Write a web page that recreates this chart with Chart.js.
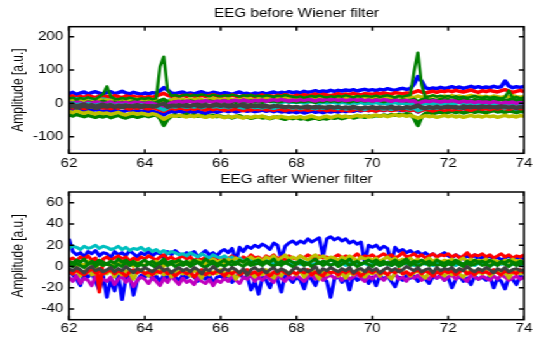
<!DOCTYPE html>
<html>
<head>
<meta charset="utf-8">
<script src="https://cdn.jsdelivr.net/npm/chart.js@4.4.0/dist/chart.umd.min.js"></script>
<style>
html,body{margin:0;padding:0;background:#fff;}
#wrap{position:absolute;left:0;top:0;width:440px;height:338px;transform:scaleX(1.2682);transform-origin:0 0;}
#c1{position:absolute;left:0;top:0;}
#c2{position:absolute;left:0;top:170px;}
</style>
</head>
<body>
<div id="wrap">
<canvas id="c1" width="440" height="170"></canvas>
<canvas id="c2" width="440" height="168"></canvas>
</div>
<script>
// ---------- shared x axis (seconds) ----------
const time = [
62,62.1,62.2,62.3,62.4,62.5,62.6,62.7,62.8,62.9,
63,63.1,63.2,63.3,63.4,63.5,63.6,63.7,63.8,63.9,
64,64.1,64.2,64.3,64.4,64.5,64.6,64.7,64.8,64.9,
65,65.1,65.2,65.3,65.4,65.5,65.6,65.7,65.8,65.9,
66,66.1,66.2,66.3,66.4,66.5,66.6,66.7,66.8,66.9,
67,67.1,67.2,67.3,67.4,67.5,67.6,67.7,67.8,67.9,
68,68.1,68.2,68.3,68.4,68.5,68.6,68.7,68.8,68.9,
69,69.1,69.2,69.3,69.4,69.5,69.6,69.7,69.8,69.9,
70,70.1,70.2,70.3,70.4,70.5,70.6,70.7,70.8,70.9,
71,71.1,71.2,71.3,71.4,71.5,71.6,71.7,71.8,71.9,
72,72.1,72.2,72.3,72.4,72.5,72.6,72.7,72.8,72.9,
73,73.1,73.2,73.3,73.4,73.5,73.6,73.7,73.8,73.9,
74];
const xTicks = [62,64,66,68,70,72,74];
const yTicksBefore = [-100,0,100,200];
const yTicksAfter = [-40,-20,0,20,40,60];
const titleBefore = 'EEG before Wiener filter';
const titleAfter = 'EEG after Wiener filter';
const yLabel = 'Amplitude [a.u.]';

// ---------- EEG before Wiener filter ----------
const beforeBlueLow = [
-19,-22,-17,-21,-24,-20,-23,-18,-22,-25,
-21,-24,-20,-23,-26,-22,-19,-24,-21,-25,
-22,-26,-23,-27,-30,-35,-28,-24,-27,-23,
-26,-29,-25,-28,-24,-27,-30,-26,-23,-27,
-24,-21,-25,-22,-26,-23,-20,-24,-22,-25,
-23,-20,-24,-21,-25,-22,-26,-24,-27,-25,
-28,-25,-29,-26,-23,-27,-25,-28,-24,-26,
-23,-26,-22,-25,-21,-24,-20,-23,-19,-22,
-20,-23,-19,-22,-18,-21,-17,-20,-22,-19,
-21,-18,-26,-20,-17,-21,-18,-16,-20,-17,
-19,-16,-20,-17,-15,-19,-16,-18,-14,-17,
-15,-18,-14,-17,-13,-16,-18,-14,-17,-15,
-16];
const beforeGreenLow = [
-34,-38,-33,-37,-40,-36,-39,-42,-38,-41,
-37,-43,-39,-36,-41,-44,-40,-38,-42,-39,
-36,-40,-37,-34,-45,-66,-48,-38,-35,-39,
-36,-33,-38,-35,-39,-37,-41,-38,-36,-40,
-38,-42,-39,-44,-40,-37,-43,-41,-45,-42,
-40,-44,-42,-46,-43,-41,-45,-48,-44,-46,
-43,-47,-45,-49,-46,-44,-48,-45,-47,-43,
-45,-42,-46,-43,-40,-44,-41,-39,-42,-38,
-40,-37,-39,-35,-38,-34,-36,-33,-35,-31,
-33,-45,-66,-40,-30,-27,-31,-28,-26,-30,
-27,-24,-28,-25,-29,-26,-23,-27,-24,-26,
-28,-25,-22,-26,-24,-27,-23,-25,-28,-24,
-26];
const beforeYellowLow = [
-24,-28,-22,-27,-30,-26,-29,-32,-28,-31,
-29,-33,-30,-27,-32,-35,-31,-29,-33,-30,
-32,-35,-31,-34,-40,-48,-42,-37,-39,-36,
-38,-41,-37,-40,-36,-39,-42,-38,-41,-37,
-40,-43,-39,-42,-38,-41,-44,-40,-43,-39,
-41,-38,-42,-45,-40,-43,-39,-42,-44,-41,
-43,-40,-44,-41,-38,-42,-45,-41,-39,-43,
-40,-37,-41,-38,-42,-39,-36,-40,-37,-41,
-38,-35,-39,-36,-40,-37,-34,-38,-35,-39,
-36,-40,-44,-41,-37,-40,-38,-42,-39,-36,
-40,-37,-41,-38,-42,-39,-36,-40,-38,-41,
-37,-40,-38,-42,-39,-36,-40,-38,-41,-37,
-39];
const beforeRedLow = [
-11,-14,-9,-13,-16,-12,-10,-15,-12,-14,
-13,-16,-12,-15,-11,-14,-17,-13,-15,-12,
-14,-17,-13,-16,-20,-24,-18,-15,-17,-14,
-16,-19,-15,-18,-14,-17,-20,-16,-19,-15,
-18,-21,-17,-20,-16,-19,-22,-18,-20,-17,
-19,-16,-20,-18,-21,-17,-19,-22,-18,-20,
-17,-20,-18,-21,-19,-16,-20,-18,-22,-19,
-21,-18,-22,-19,-23,-20,-17,-21,-19,-22,
-20,-23,-19,-21,-18,-22,-20,-17,-21,-19,
-22,-19,-25,-21,-18,-20,-23,-19,-17,-21,
-18,-20,-17,-19,-16,-18,-21,-17,-15,-18,
-16,-19,-15,-17,-14,-16,-18,-15,-13,-16,
-15];
const beforeBlueHigh = [
29,33,27,31,34,28,32,35,30,28,
33,35,29,32,36,31,28,33,30,27,
31,28,32,30,38,47,40,31,29,32,
34,29,31,28,32,35,30,29,33,31,
28,32,30,27,31,34,29,30,27,31,
29,32,28,31,34,30,33,31,35,32,
34,31,36,33,35,38,34,37,35,39,
36,39,37,40,38,41,37,40,42,39,
41,38,42,40,44,41,39,43,45,42,
44,58,80,66,47,43,46,44,48,45,
47,50,46,49,45,48,51,47,50,46,
49,47,51,48,50,67,52,47,50,48,
51];
const beforeRedHigh = [
19,22,17,21,18,23,20,17,22,19,
21,18,23,20,17,22,19,21,18,20,
17,20,18,22,26,30,24,21,23,20,
24,21,25,22,20,24,21,23,26,22,
20,23,21,25,22,19,23,21,24,20,
22,25,21,23,20,24,22,26,23,21,
24,22,26,23,25,28,24,27,25,23,
26,29,25,28,26,30,27,25,29,28,
27,30,28,31,29,27,32,30,28,31,
30,33,38,34,31,34,36,33,37,35,
38,35,39,36,34,37,40,36,33,38,
35,39,36,34,38,41,37,33,36,39,
35];
const beforeCyanHigh = [
12,9,14,10,13,11,8,12,10,13,
11,8,12,9,11,7,10,12,8,11,
9,12,8,10,6,2,8,11,9,12,
10,7,11,8,10,6,9,7,10,8,
7,9,6,8,5,7,4,6,8,5,
6,3,5,7,4,6,2,5,3,4,
2,4,1,3,5,2,0,3,1,4,
2,0,3,1,-1,2,0,3,-1,1,
0,2,-1,1,-2,0,2,-1,1,-2,
0,-2,-8,-3,0,-1,1,-2,0,-1,
1,-1,0,2,-2,0,-1,1,-2,0,
-1,1,-2,0,-3,-1,0,-2,1,-1,
-2];
const beforeYellowHigh = [
6,10,4,8,11,7,5,9,12,8,
10,7,11,8,12,9,6,10,13,9,
11,8,12,9,6,0,5,10,13,11,
12,9,13,10,14,11,8,12,15,11,
13,10,14,12,9,13,11,15,12,10,
14,11,15,13,10,14,12,16,13,15,
12,16,14,17,13,15,18,14,16,13,
17,15,18,14,16,19,15,17,20,16,
18,15,19,17,20,16,18,21,17,19,
20,17,22,18,21,19,23,20,18,22,
19,23,20,22,18,21,24,20,22,19,
21,18,22,20,17,21,19,23,20,18,
21];
const beforeGreenMid = [
3,0,5,1,-2,4,2,-1,3,6,
2,-1,4,0,3,-2,1,4,-1,2,
0,3,-1,2,8,12,4,1,5,3,
6,3,7,4,2,6,3,7,5,2,
5,8,4,7,3,6,9,5,7,4,
6,3,7,5,8,4,6,9,5,7,
4,7,5,8,6,3,7,5,9,6,
8,5,9,6,4,8,6,10,7,9,
7,10,8,5,9,7,11,8,10,7,
9,12,4,10,13,9,11,8,12,10,
11,8,12,9,13,10,7,11,9,12,
10,7,11,9,12,8,10,13,9,11,
8];
const beforeMagenta = [
2,-1,4,1,-2,3,0,5,2,-1,
1,4,-2,2,0,3,-1,2,5,1,
-1,2,0,-3,-8,-12,-5,2,4,6,
3,7,5,2,6,4,8,5,3,7,
5,8,4,7,9,6,10,7,5,9,
7,10,6,9,11,8,12,9,7,10,
8,11,9,12,10,7,11,9,13,10,
12,9,11,8,10,13,9,11,8,10,
7,10,8,11,9,6,10,8,7,9,
6,8,-2,4,7,5,8,6,4,7,
5,8,6,3,7,4,6,2,5,3,
4,1,5,2,0,3,1,4,0,2,
1];
const beforeCyanLow = [
-3,0,-5,-2,-6,-1,-4,-7,-3,-5,
-6,-3,-8,-5,-7,-4,-9,-6,-8,-5,
-7,-9,-6,-10,-15,-20,-14,-9,-11,-8,
-10,-12,-9,-11,-8,-13,-10,-7,-11,-9,
-12,-9,-13,-10,-8,-12,-14,-11,-9,-13,
-11,-14,-10,-13,-15,-12,-9,-13,-11,-14,
-12,-15,-13,-10,-14,-16,-12,-15,-13,-11,
-14,-16,-13,-17,-15,-12,-16,-14,-18,-15,
-13,-16,-14,-17,-15,-18,-14,-16,-13,-15,
-17,-14,-22,-18,-13,-15,-12,-14,-11,-13,
-10,-13,-11,-14,-12,-9,-13,-11,-8,-12,
-10,-13,-11,-9,-12,-14,-10,-13,-11,-9,
-12];
const beforeGrayLow = [
-12,-9,-14,-11,-8,-13,-10,-15,-12,-9,
-11,-8,-12,-9,-13,-10,-7,-11,-9,-12,
-10,-7,-11,-8,-3,0,-9,-6,-8,-5,
-7,-4,-8,-5,-3,-6,-4,-7,-5,-2,
-6,-3,-7,-4,-8,-5,-2,-6,-4,-7,
-5,-8,-6,-9,-7,-10,-8,-11,-9,-12,
-10,-13,-11,-14,-12,-9,-13,-11,-15,-12,
-14,-11,-15,-13,-16,-12,-14,-17,-13,-15,
-13,-16,-14,-12,-15,-13,-17,-14,-16,-13,
-15,-12,-8,-14,-16,-13,-15,-12,-14,-11,
-13,-10,-14,-12,-15,-11,-13,-10,-14,-12,
-10,-13,-11,-14,-12,-9,-13,-11,-14,-12,
-13];
const beforeGray = [
-6,-3,-8,-5,-2,-7,-4,-9,-5,-3,
-7,-4,-9,-6,-8,-5,-10,-7,-4,-8,
-6,-9,-7,-10,-4,-2,-12,-8,-6,-9,
-7,-10,-8,-5,-9,-11,-7,-10,-8,-6,
-9,-7,-11,-8,-10,-6,-9,-12,-8,-10,
-8,-11,-9,-12,-10,-7,-11,-13,-9,-12,
-10,-13,-11,-8,-12,-14,-10,-13,-11,-9,
-12,-10,-14,-11,-13,-9,-12,-15,-11,-13,
-10,-13,-11,-14,-12,-9,-13,-11,-14,-10,
-12,-9,-5,-11,-13,-10,-12,-9,-13,-11,
-9,-12,-10,-13,-8,-11,-9,-12,-10,-8,
-11,-9,-12,-10,-8,-11,-13,-9,-12,-10,
-11];
const beforeGreenSpike = [
14,17,12,16,13,18,15,12,20,28,
51,20,14,12,16,13,17,14,11,15,
13,16,12,15,110,140,40,22,25,21,
24,26,22,25,23,27,24,21,26,23,
21,24,22,26,23,20,24,22,25,21,
23,20,24,22,19,23,21,25,22,20,
18,21,17,20,22,19,23,20,18,21,
19,22,20,24,21,18,22,20,23,21,
20,23,19,22,24,21,18,22,20,23,
25,95,152,55,18,21,24,20,23,19,
22,18,21,17,20,16,19,22,18,17,
20,16,19,17,14,18,38,16,19,15,
18];

// ---------- EEG after Wiener filter ----------
const afterBlueLow = [
-5,-8,-12,-18,-7,-10,-6,-14,-22,-9,
-29,-12,-23,-8,-31,-11,-9,-27,-13,-8,
-10,-7,-12,-9,-14,-8,-11,-6,-10,-13,
-8,-11,-7,-10,-14,-9,-12,-8,-16,-10,
-9,-12,-8,-15,-10,-7,-11,-9,-22,-14,
-26,-10,-13,-20,-9,-12,-24,-8,-11,-15,
-10,-13,-21,-9,-12,-18,-8,-11,-14,-29,
-12,-9,-15,-10,-22,-8,-13,-11,-9,-16,
-10,-18,-8,-12,-9,-14,-19,-10,-13,-8,
-11,-9,-14,-10,-12,-16,-9,-11,-8,-13,
-10,-20,-12,-9,-14,-11,-17,-9,-12,-10,
-13,-9,-20,-11,-14,-21,-10,-12,-17,-9,
-11];
const afterBlueHigh = [
26,14,11,13,9,14,12,15,10,13,
12,8,14,11,13,10,15,12,9,13,
11,14,10,13,12,8,14,11,15,12,
10,13,11,14,9,12,15,11,13,10,
14,16,13,17,5,18,14,19,17,20,
18,21,19,16,22,20,7,19,22,24,
21,24,22,26,23,25,27,10,26,28,
25,27,24,26,22,24,21,23,4,20,
18,20,16,19,17,3,18,14,16,13,
15,12,14,11,13,10,12,9,11,13,
10,8,11,9,7,10,8,11,6,9,
8,10,7,9,6,8,10,7,9,6,
8];
const afterMagenta = [
-10,-14,-8,-16,-11,-13,-18,-9,-15,-12,
-14,-10,-17,-12,-9,-15,-11,-19,-13,-10,
-12,-16,-10,-14,-18,-11,-15,-9,-13,-17,
-11,-15,-13,-17,-10,-14,-16,-12,-18,-13,
-15,-11,-14,-9,-13,-16,-10,-12,-8,-14,
-10,-13,-9,-12,-15,-8,-11,-14,-9,-12,
-8,-11,-14,-10,-7,-12,-9,-13,-10,-8,
-11,-9,-13,-8,-12,-10,-7,-11,-14,-9,
-12,-8,-10,-13,-9,-11,-7,-12,-10,-14,
-9,-11,-8,-13,-10,-12,-7,-11,-9,-13,
-10,-8,-12,-9,-11,-14,-8,-10,-12,-9,
-11,-13,-9,-12,-8,-10,-13,-11,-9,-12,
-10];
const afterYellowLow = [
-4,-7,-3,-9,-5,-2,-8,-6,-11,-4,
-7,-3,-10,-5,-8,-4,-6,-12,-5,-3,
-6,-9,-4,-7,-3,-8,-5,-10,-6,-4,
-7,-5,-9,-3,-6,-11,-4,-8,-5,-7,
-3,-6,-9,-5,-12,-7,-4,-8,-6,-10,
-5,-8,-3,-7,-11,-6,-9,-4,-7,-5,
-8,-4,-10,-6,-3,-7,-12,-5,-8,-6,
-4,-9,-6,-11,-5,-8,-3,-7,-10,-6,
-7,-4,-9,-5,-8,-12,-6,-3,-7,-5,
-9,-6,-4,-8,-11,-5,-7,-3,-6,-9,
-5,-8,-4,-7,-10,-6,-3,-8,-5,-7,
-4,-9,-6,-3,-8,-5,-11,-6,-4,-7,
-5];
const afterRedLow = [
-4,-7,-3,-6,-8,-5,-2,-6,-4,-7,
-5,-3,-7,-4,-6,-9,-5,-3,-6,-4,
-7,-5,-8,-4,-6,-3,-7,-5,-9,-6,
-4,-7,-5,-10,-6,-3,-8,-5,-7,-4,
-6,-9,-5,-7,-4,-8,-6,-3,-7,-5,
-8,-4,-6,-9,-5,-7,-3,-6,-8,-5,
-7,-4,-6,-3,-8,-5,-7,-9,-4,-6,
-5,-8,-4,-6,-3,-7,-5,-9,-6,-4,
-6,-3,-7,-5,-8,-4,-6,-3,-7,-5,
-8,-5,-3,-7,-4,-6,-9,-5,-7,-4,
-6,-4,-8,-5,-3,-7,-5,-8,-4,-6,
-5,-7,-3,-6,-8,-4,-6,-5,-7,-3,
-6];
const afterRed = [
6,8,5,9,7,10,6,8,-24,7,
9,6,8,10,7,9,5,8,6,9,
7,10,8,6,9,11,7,9,6,8,
10,7,9,5,8,6,9,7,10,8,
6,9,7,10,8,5,9,7,11,8,
9,6,10,8,11,7,9,6,10,8,
7,10,8,11,9,6,10,8,9,7,
9,11,8,10,7,9,12,8,10,9,
11,8,10,12,9,11,8,10,13,9,
10,12,9,11,8,10,12,9,11,10,
12,9,11,8,10,13,9,11,10,12,
9,11,8,10,12,9,11,8,10,9,
11];
const afterCyan = [
17,19,18,16,19,17,18,20,17,19,
18,16,17,19,16,18,15,17,16,18,
15,17,14,16,13,15,12,14,13,11,
12,10,13,11,9,12,10,8,11,9,
8,10,7,9,6,8,5,7,6,4,
5,3,6,4,2,5,3,4,2,3,
4,2,3,5,1,3,4,2,3,1,
3,2,4,1,3,2,4,2,3,1,
2,4,1,3,2,1,3,2,4,2,
3,1,2,4,2,3,1,3,2,4,
2,3,1,3,2,4,2,1,3,2,
3,1,2,4,2,3,1,2,3,1,
2];
const afterYellowHigh = [
2,4,0,3,1,5,2,-1,3,1,
3,0,4,2,5,1,3,0,4,2,
1,4,2,5,3,0,4,2,5,3,
4,2,5,3,6,4,2,5,7,4,
6,3,7,5,8,6,4,7,9,6,
8,5,9,7,10,6,8,11,7,9,
7,10,8,6,9,11,8,10,7,9,
8,6,9,7,10,8,5,9,7,8,
6,8,5,7,9,6,8,5,7,6,
8,5,7,4,6,8,5,7,4,6,
5,7,4,6,8,5,7,4,6,5,
7,4,6,5,3,6,4,7,5,6,
4];
const afterGreenHigh = [
5,3,6,4,7,2,5,3,6,4,
2,5,3,7,4,6,3,5,2,4,
6,3,5,2,4,7,3,5,4,6,
3,5,2,6,4,3,7,4,5,2,
4,6,3,5,2,6,4,7,3,5,
6,3,5,4,7,2,5,3,6,4,
3,6,4,2,5,7,3,5,4,6,
5,3,6,4,7,3,5,2,4,6,
4,6,3,5,2,4,6,3,5,7,
3,5,4,6,3,5,2,6,4,3,
5,3,6,4,2,5,3,6,4,5,
3,6,4,2,5,3,6,4,3,5,
4];
const afterGreen = [
2,0,3,1,-1,2,4,0,3,1,
3,1,-1,2,0,4,1,3,0,2,
0,3,1,-1,2,4,1,3,0,2,
1,3,0,2,4,1,-1,2,3,0,
2,0,3,1,4,2,0,3,1,2,
3,1,4,2,0,3,1,4,2,0,
2,4,1,3,0,2,4,1,3,1,
3,0,2,4,1,3,0,2,4,2,
0,3,1,2,4,1,3,0,2,4,
1,3,0,2,4,1,3,1,2,0,
3,1,4,2,0,3,1,2,4,1,
2,0,3,1,4,2,0,3,1,2,
3];
const afterGray = [
-2,-4,-1,-3,-6,-2,0,-4,-2,-5,
-3,-1,-5,-2,-4,0,-3,-6,-2,-4,
-1,-3,-5,-2,0,-4,-2,-6,-3,-1,
-4,-2,-5,-1,-3,-7,-2,-4,0,-3,
-5,-2,-4,-1,-3,-6,-2,-8,-3,-1,
-4,-2,-6,-3,-1,-5,-2,-4,-7,-3,
-1,-4,-2,-5,-3,0,-6,-2,-4,-1,
-3,-5,-2,-4,-1,-6,-3,-2,-5,-1,
-4,-2,-6,-3,-1,-4,-2,-5,-3,0,
-2,-4,-1,-5,-3,-2,-6,-1,-4,-2,
-3,-1,-5,-2,-4,0,-3,-5,-2,-4,
-1,-3,-6,-2,-4,-1,-5,-3,-2,-4,
-3];

// MATLAB default line colours
const BLUE='#0000ff', GREEN='#008000', RED='#ff0000', CYAN='#00bfbf',
      MAGENTA='#bf00bf', YELLOW='#bfbf00', GRAY='#404040';

// drawing order: first listed is drawn first (underneath); third item = line width
const beforeSeries = [
  [beforeBlueLow, BLUE], [beforeGreenLow, GREEN], [beforeYellowLow, YELLOW],
  [beforeRedLow, RED], [beforeBlueHigh, BLUE], [beforeRedHigh, RED],
  [beforeCyanHigh, CYAN], [beforeYellowHigh, YELLOW], [beforeGreenMid, GREEN],
  [beforeMagenta, MAGENTA], [beforeCyanLow, CYAN], [beforeGrayLow, GRAY],
  [beforeGray, GRAY], [beforeGreenSpike, GREEN, 2.5]
];
const afterSeries = [
  [afterBlueLow, BLUE], [afterBlueHigh, BLUE], [afterMagenta, MAGENTA],
  [afterYellowLow, YELLOW], [afterRedLow, RED], [afterRed, RED], [afterCyan, CYAN],
  [afterYellowHigh, YELLOW], [afterGreenHigh, GREEN], [afterGreen, GREEN], [afterGray, GRAY]
];

Chart.defaults.font.family = "'Liberation Sans', Arial, Helvetica, sans-serif";
Chart.defaults.font.size = 12;
Chart.defaults.color = '#000';

const framePlugin = {
  id: 'matlabFrame',
  afterDatasetsDraw(chart) {
    const {ctx, chartArea: a} = chart;
    const x = chart.scales.x, y = chart.scales.y;
    ctx.save();
    ctx.strokeStyle = '#000';
    ctx.lineWidth = 1.5;
    ctx.strokeRect(a.left, a.top, a.right - a.left, a.bottom - a.top);
    ctx.beginPath();
    x.ticks.forEach(t => {
      const px = x.getPixelForValue(t.value);
      ctx.moveTo(px, a.bottom); ctx.lineTo(px, a.bottom - 4);
      ctx.moveTo(px, a.top); ctx.lineTo(px, a.top + 4);
    });
    y.ticks.forEach(t => {
      const py = y.getPixelForValue(t.value);
      ctx.moveTo(a.left, py); ctx.lineTo(a.left + 4, py);
      ctx.moveTo(a.right, py); ctx.lineTo(a.right - 4, py);
    });
    ctx.stroke();
    ctx.restore();
  }
};

function makeChart(canvasId, series, title, yMin, yMax, yTicks, cfg) {
  const datasets = series.map(([arr, color, w], i) => ({
    data: time.map((t, k) => ({x: t, y: arr[k]})),
    borderColor: color,
    backgroundColor: color,
    borderWidth: w || cfg.lineWidth,
    borderJoinStyle: 'round',
    pointRadius: 0,
    tension: 0,
    fill: false,
    clip: 0,
    order: -i
  }));
  return new Chart(document.getElementById(canvasId), {
    type: 'line',
    data: {datasets},
    plugins: [framePlugin],
    options: {
      responsive: false,
      animation: false,
      events: [],
      layout: {padding: {left: 0, right: 26.8, top: 0, bottom: 0}},
      plugins: {
        legend: {display: false},
        tooltip: {enabled: false},
        title: {
          display: true, text: title, fullSize: false,
          font: {size: 12, weight: 'normal'}, color: '#000',
          padding: {top: cfg.titleTop, bottom: cfg.titleBottom}
        }
      },
      scales: {
        x: {
          type: 'linear', min: 62, max: 74,
          grid: {display: false, drawTicks: false},
          border: {display: false},
          ticks: {padding: cfg.xPad, autoSkip: false, maxRotation: 0, color: '#000'},
          afterBuildTicks: s => { s.ticks = xTicks.map(v => ({value: v})); },
          afterFit: s => { s.height = cfg.xHeight; }
        },
        y: {
          type: 'linear', min: yMin, max: yMax,
          grid: {display: false, drawTicks: false},
          border: {display: false},
          ticks: {padding: 4.5, autoSkip: false, color: '#000'},
          title: {display: true, text: yLabel, color: '#000',
                  font: {size: 12}, padding: {top: 7.8, bottom: 0}},
          afterBuildTicks: s => { s.ticks = yTicks.map(v => ({value: v})); },
          afterFit: s => { s.width = 54.4; }
        }
      }
    }
  });
}

makeChart('c1', beforeSeries, titleBefore, -150, 230, yTicksBefore,
          {titleTop: 6, titleBottom: 6.3, xHeight: 16.7, xPad: 3, lineWidth: 3.5});
makeChart('c2', afterSeries, titleAfter, -50, 70, yTicksAfter,
          {titleTop: 2, titleBottom: 5.6, xHeight: 18.3, xPad: 2, lineWidth: 3});
</script>
</body>
</html>
